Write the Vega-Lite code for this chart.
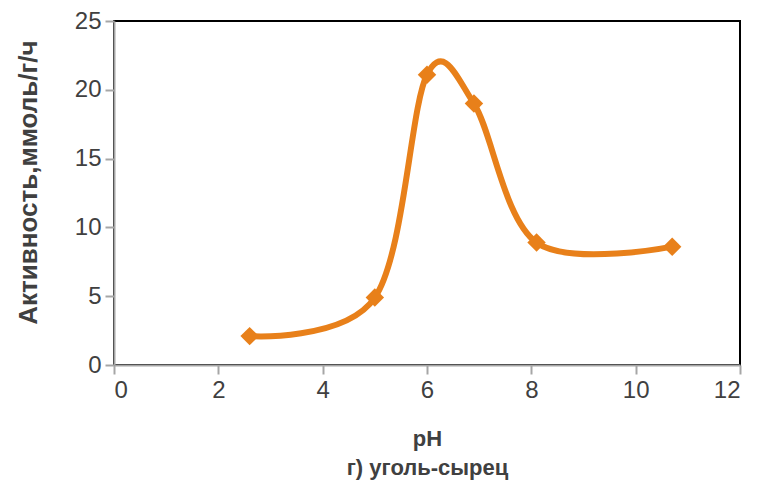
{
  "$schema": "https://vega.github.io/schema/vega-lite/v6.json",
  "width": 626,
  "height": 344,
  "padding": {"left": 15, "top": 9, "right": 7, "bottom": 5},
  "background": "white",
  "config": {
    "view": {"stroke": "#000000", "strokeWidth": 2},
    "font": "Liberation Sans",
    "axis": {
      "grid": false,
      "domainColor": "#a6a6a6",
      "domainWidth": 2,
      "tickColor": "#a6a6a6",
      "tickWidth": 2,
      "tickSize": 9,
      "labelFontSize": 24,
      "labelColor": "#404040",
      "labelFont": "Liberation Sans",
      "titleFont": "Liberation Sans",
      "titleFontWeight": "bold",
      "titleColor": "#404040"
    }
  },
  "data": {
    "values": [
      {"pH": 2.6, "a": 2.1},
      {"pH": 5.0, "a": 4.9},
      {"pH": 6.0, "a": 21.1},
      {"pH": 6.9, "a": 19.0},
      {"pH": 8.1, "a": 8.9},
      {"pH": 10.7, "a": 8.6}
    ]
  },
  "encoding": {
    "x": {
      "field": "pH",
      "type": "quantitative",
      "scale": {"domain": [0, 12], "nice": false},
      "axis": {"values": [0, 2, 4, 6, 8, 10, 12], "title": ["pH", "г) уголь-сырец"], "titleFontSize": 22, "labelPadding": 4, "titlePadding": 26, "titleLineHeight": 29}
    },
    "y": {
      "field": "a",
      "type": "quantitative",
      "scale": {"domain": [0, 25], "nice": false},
      "axis": {"values": [0, 5, 10, 15, 20, 25], "title": "Активность,ммоль/г/ч", "titleFontSize": 26, "labelPadding": 4, "titlePadding": 33, "titleY": 161}
    }
  },
  "layer": [
    {
      "mark": {"type": "line", "interpolate": "cardinal", "color": "#E8801A", "strokeWidth": 6}
    },
    {
      "mark": {"type": "point", "shape": "diamond", "filled": true, "size": 340, "color": "#E8801A", "opacity": 1}
    }
  ]
}
